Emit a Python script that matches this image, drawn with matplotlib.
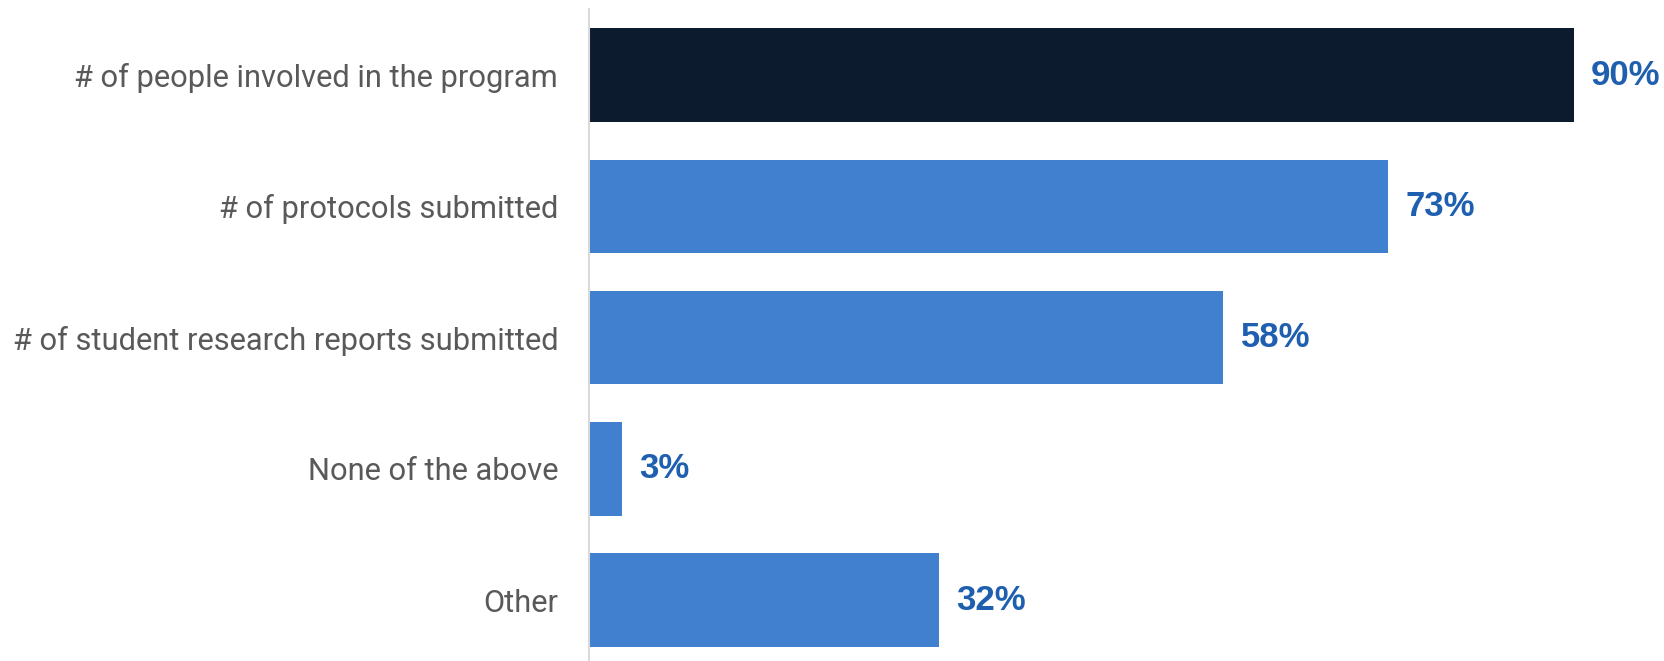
import matplotlib
matplotlib.use("Agg")
import matplotlib.pyplot as plt

categories = [
    "# of people involved in the program",
    "# of protocols submitted",
    "# of student research reports submitted",
    "None of the above",
    "Other",
]
values = [90, 73, 58, 3, 32]
value_labels = ["90%", "73%", "58%", "3%", "32%"]

DARK = "#0D1B2E"
BLUE = "#4080CF"
LABEL_BLUE = "#1F5FAF"
GRAY_TEXT = "#595959"

W, H = 1665, 661
fig = plt.figure(figsize=(W / 100, H / 100), dpi=100)
ax_left = 588.7 / W
ax = fig.add_axes([ax_left, 0.0, 1.0 - ax_left, 1.0 - 9 / H])

colors = [DARK] + [BLUE] * (len(values) - 1)
ypos = list(range(len(categories)))
bars = ax.barh(ypos, values, height=0.712, color=colors, edgecolor="none")

for bar, lab in zip(bars, value_labels):
    ax.text(bar.get_width() + 1.6, bar.get_y() + bar.get_height() / 2, lab,
            ha="left", va="center", fontsize=25, fontweight="bold",
            color=LABEL_BLUE, family="Liberation Sans")

ax.set_xlim(0, (W - 588.7) / 10.944)
ax.set_ylim(4.463, -0.503)
ax.set_yticks(ypos)
ax.set_yticklabels(categories, fontsize=22.2, color=GRAY_TEXT, family="Roboto")
ax.tick_params(axis="y", length=0, pad=22)
ax.set_xticks([])
for side in ["top", "right", "bottom"]:
    ax.spines[side].set_visible(False)
ax.spines["left"].set_color("#D9D9D9")
ax.spines["left"].set_linewidth(1.5)

fig.savefig("out.png", dpi=100)
